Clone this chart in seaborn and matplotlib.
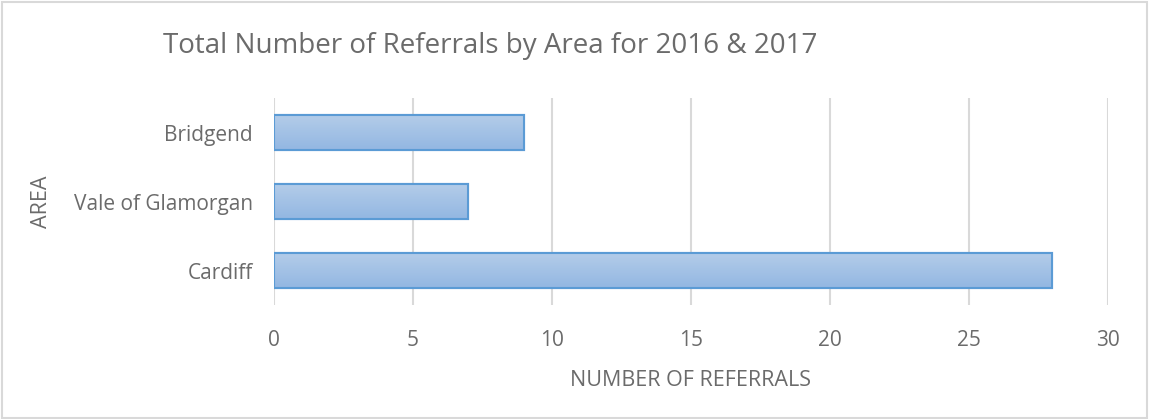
import numpy as np
import pandas as pd
import matplotlib
matplotlib.use("Agg")
import matplotlib.pyplot as plt
import seaborn as sns
from matplotlib.patches import Rectangle

# data
areas = ["Bridgend", "Vale of Glamorgan", "Cardiff"]
referrals = [9, 7, 28]
x_ticks = [0, 5, 10, 15, 20, 25, 30]

df = pd.DataFrame({"area": areas, "referrals": referrals})

sns.set_theme(style="white")
plt.rcParams["font.family"] = ["Open Sans", "DejaVu Sans"]

text_grey = "#6b6b6b"
grid_grey = "#d9d9d9"

fig = plt.figure(figsize=(11.5, 4.19), dpi=100)
ax = fig.add_axes([0.238, 0.272, 0.7255, 0.494])

sns.barplot(data=df, x="referrals", y="area", order=areas, ax=ax,
            color="#a5c3e6", edgecolor="#5b9bd5", linewidth=1.5,
            width=0.5, orient="h", zorder=3)

# gradient fill inside each bar (light top -> slightly darker bottom)
grad = np.linspace(0, 1, 64).reshape(-1, 1)
cmap = matplotlib.colors.LinearSegmentedColormap.from_list(
    "bar", ["#b3cce9", "#93b7e2"])
for bar in ax.patches:
    x0, y0 = bar.get_x(), bar.get_y()
    w, h = bar.get_width(), bar.get_height()
    im = ax.imshow(grad, cmap=cmap, aspect="auto", zorder=3.5,
                   extent=[x0, x0 + w, y0, y0 + h], origin="lower")
    im.set_clip_path(bar)
    edge = Rectangle((x0, y0), w, h, fill=False, edgecolor="#5b9bd5",
                     linewidth=1.5, zorder=4)
    ax.add_patch(edge)

ax.set_xlim(0, 30)
ax.set_ylim(2.5, -0.5)
ax.set_xticks(x_ticks)
ax.set_xticklabels([str(t) for t in x_ticks])
ax.grid(axis="x", color=grid_grey, linewidth=1.5, zorder=0)
ax.grid(axis="y", visible=False)
for s in ax.spines.values():
    s.set_visible(False)
ax.tick_params(axis="both", length=0, labelsize=15, colors=text_grey)
ax.tick_params(axis="y", pad=15)
ax.tick_params(axis="x", pad=18)

ax.set_xlabel("NUMBER OF REFERRALS", fontsize=15.5, color=text_grey, labelpad=14)
ax.set_ylabel("AREA", fontsize=15.5, color=text_grey, labelpad=16)

fig.text(0.426, 0.89, "Total Number of Referrals by Area for 2016 & 2017",
         ha="center", va="center", fontsize=20, color=text_grey)

# light border around the chart area
fig.patches.append(Rectangle((0.002, 0.003), 0.995, 0.993, transform=fig.transFigure,
                             fill=False, edgecolor=grid_grey, linewidth=1.5))

fig.savefig("out.png", dpi=100)
